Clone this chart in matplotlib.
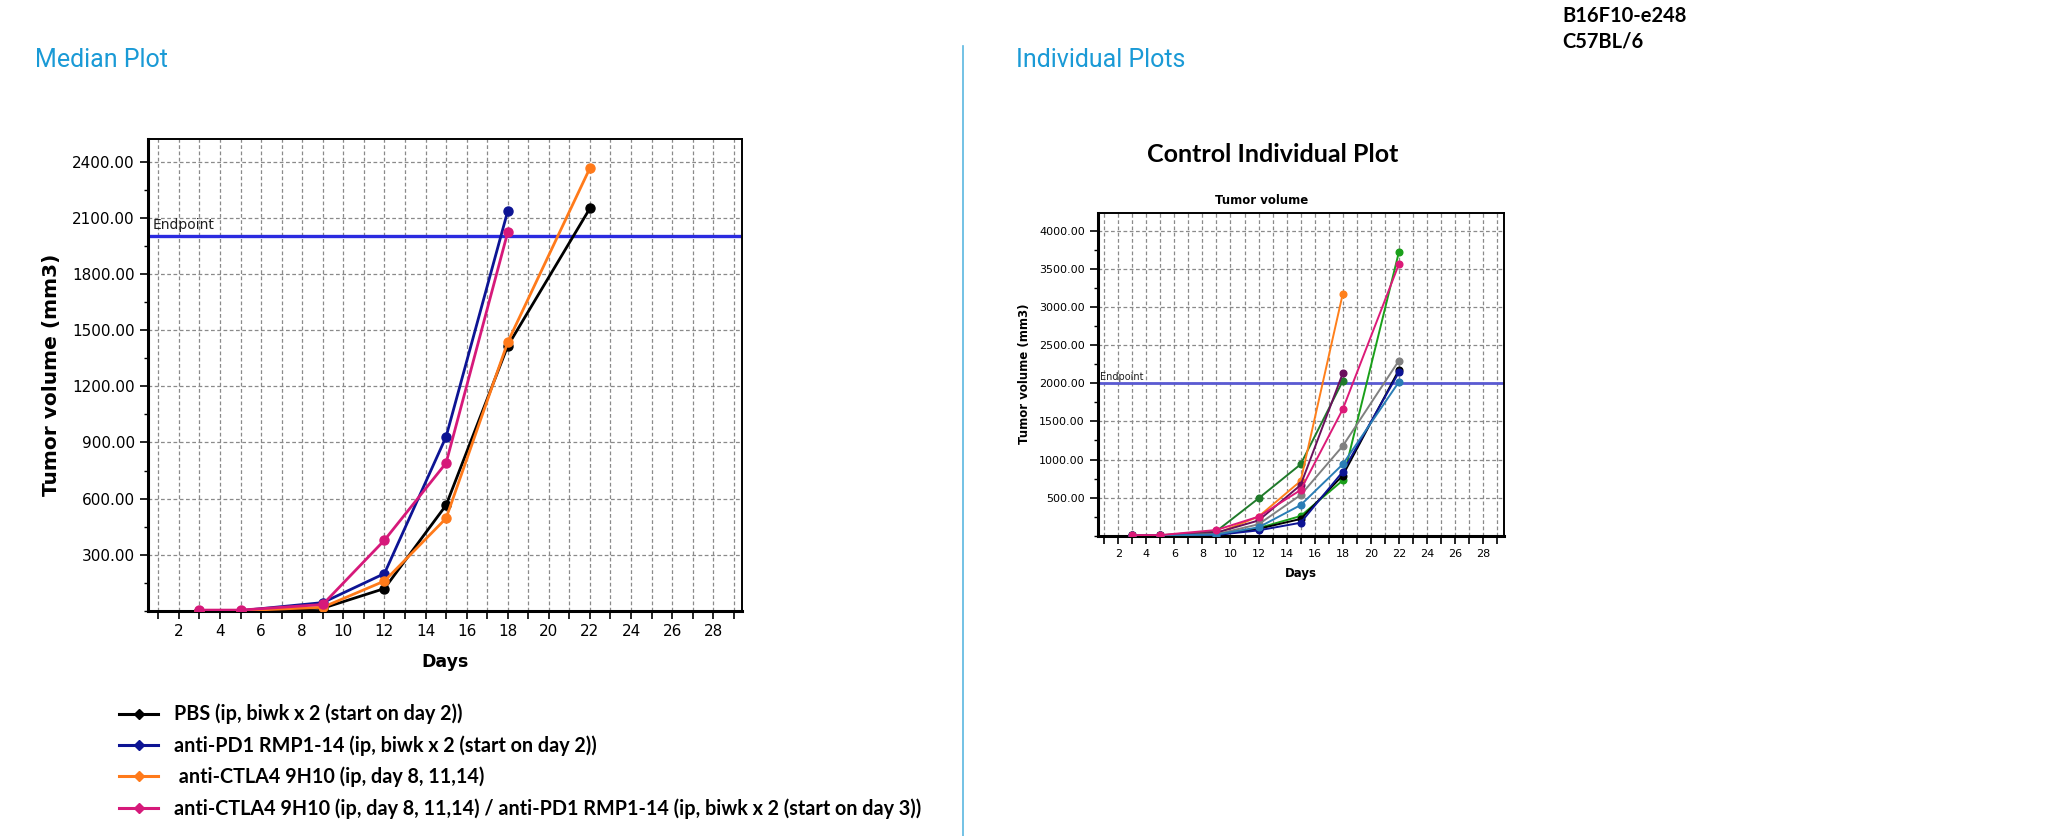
import matplotlib
matplotlib.use("Agg")
import matplotlib.pyplot as plt
from matplotlib.ticker import MultipleLocator, FixedLocator

# median plot data
median_labels = ["PBS (ip, biwk x 2 (start on day 2))",
                 "anti-PD1 RMP1-14 (ip, biwk x 2 (start on day 2))",
                 " anti-CTLA4 9H10 (ip, day 8, 11,14)",
                 "anti-CTLA4 9H10 (ip, day 8, 11,14) / anti-PD1 RMP1-14 (ip, biwk x 2 (start on day 3))"]
median_colors = ["#000000", "#0d1494", "#ff7a1a", "#d6197a"]
pbs_days = [3, 5, 9, 12, 15, 18, 22]
pbs_vol = [2, 2, 15, 120, 565, 1415, 2150]
pd1_days = [3, 5, 9, 12, 15, 18]
pd1_vol = [2, 2, 45, 200, 930, 2135]
ctla4_days = [3, 5, 9, 12, 15, 18, 22]
ctla4_vol = [2, 2, 20, 160, 495, 1435, 2365]
combo_days = [3, 5, 9, 12, 15, 18]
combo_vol = [5, 5, 35, 378, 790, 2022]

# individual plot data (control group)
ind_days_short = [3, 5, 9, 12, 15, 18]
ind_days_long = [3, 5, 9, 12, 15, 18, 22]
ind_colors = ["#1f7a2a", "#ff7f1a", "#6a0f5c", "#1aa01a", "#808080",
              "#000000", "#0d1494", "#2a7db5", "#dc1a78"]
ind_vols = [
    [5, 5, 60, 490, 937, 2030],
    [5, 5, 30, 250, 718, 3173],
    [5, 5, 40, 200, 665, 2131],
    [3, 3, 15, 100, 258, 726, 3720],
    [3, 3, 20, 150, 534, 1177, 2297],
    [3, 3, 10, 90, 220, 790, 2175],
    [3, 3, 10, 70, 170, 840, 2144],
    [3, 3, 15, 110, 402, 937, 2017],
    [8, 8, 75, 250, 600, 1659, 3562],
]
endpoint = 2000

fig = plt.figure(figsize=(20.48, 8.36), dpi=100)

def style_axes(ax, xlim, ylim, ystep, tick_fs):
    ax.set_xlim(*xlim)
    ax.set_ylim(*ylim)
    ax.xaxis.set_major_locator(FixedLocator(range(1, 30)))
    ax.set_xticklabels([str(d) if d % 2 == 0 else "" for d in range(1, 30)])
    ax.yaxis.set_major_locator(FixedLocator([ystep * i for i in range(1, int(ylim[1] // ystep) + 1)]))
    ax.yaxis.set_minor_locator(MultipleLocator(ystep / 2))
    ax.yaxis.set_major_formatter(matplotlib.ticker.FormatStrFormatter("%.2f"))
    ax.grid(True, which="major", color="#8a8a8a", linestyle=(0, (3, 2)), linewidth=0.9)
    ax.tick_params(axis="both", which="major", direction="out", length=6, width=1.2,
                   labelsize=tick_fs, color="black")
    ax.tick_params(axis="y", which="minor", direction="out", length=3, width=1.0)
    for s in ax.spines.values():
        s.set_color("black")
        s.set_linewidth(1.4)
    ax.spines["left"].set_linewidth(2.2)
    ax.spines["bottom"].set_linewidth(2.2)
    ax.set_axisbelow(True)

# ---- median plot ----
ax1 = fig.add_axes([0.0723, 0.2691, 0.290, 0.5646])
style_axes(ax1, (0.5, 29.4), (0, 2520), 300, 11)
ax1.axhline(endpoint, color="#2b2be0", linewidth=2.4, zorder=2)
ax1.text(0.7, endpoint + 25, "Endpoint", fontsize=10, color="#202020", va="bottom")
series = [(pbs_days, pbs_vol), (pd1_days, pd1_vol), (ctla4_days, ctla4_vol), (combo_days, combo_vol)]
for (d, v), c, lab in zip(series, median_colors, median_labels):
    ax1.plot(d, v, color=c, linewidth=2.0, marker="o", markersize=6.5, zorder=3)
ax1.set_ylabel("Tumor volume (mm3)", fontsize=14.5, fontweight="bold", labelpad=8)
ax1.set_xlabel("Days", fontsize=12.5, fontweight="bold", labelpad=10)

handles = [plt.Line2D([], [], color=c, linewidth=2.2, marker="D", markersize=5) for c in median_colors]
fig.legend(handles, median_labels, loc="upper left", bbox_to_anchor=(0.058, 0.158),
           frameon=False, handlelength=2.0, handletextpad=0.8, labelspacing=0.55,
           borderaxespad=0, borderpad=0, prop={"family": "Lato", "weight": "bold", "size": 14.2})

# ---- individual plot ----
ax2 = fig.add_axes([0.5361, 0.3592, 0.1983, 0.3864])
style_axes(ax2, (0.55, 29.5), (0, 4240), 500, 8)
ax2.axhline(endpoint, color="#5a5ad2", linewidth=2.0, zorder=2)
ax2.text(0.7, endpoint + 20, "Endpoint", fontsize=7, color="#202020", va="bottom")
for v, c in zip(ind_vols, ind_colors):
    d = ind_days_short if len(v) == 6 else ind_days_long
    ax2.plot(d, v, color=c, linewidth=1.4, marker="o", markersize=4.8, zorder=3)
ax2.set_ylabel("Tumor volume (mm3)", fontsize=8.5, fontweight="bold", labelpad=6)
ax2.set_xlabel("Days", fontsize=8.5, fontweight="bold", labelpad=6)
fig.text(1262 / 2048, 1 - 200 / 836, "Tumor volume", fontsize=8.5, fontweight="bold",
         ha="center", va="center")

# ---- page text ----
fig.text(35 / 2048, 1 - 60 / 836, "Median Plot", fontsize=18, color="#1a9ad6",
         family="Roboto", va="center")
fig.text(1016 / 2048, 1 - 60 / 836, "Individual Plots", fontsize=18, color="#1a9ad6",
         family="Roboto", va="center")
fig.add_artist(plt.Line2D([963 / 2048, 963 / 2048], [0, 1 - 46 / 836], color="#5bb8e0", linewidth=1.2))
fig.text(1562 / 2048, 1 - 16 / 836, "B16F10-e248", fontsize=14.5, family="Lato",
         fontweight="bold", va="center")
fig.text(1562 / 2048, 1 - 42 / 836, "C57BL/6", fontsize=14.5, family="Lato",
         fontweight="bold", va="center")
fig.text(1273 / 2048, 1 - 155 / 836, "Control Individual Plot", fontsize=18, family="Lato",
         fontweight="bold", ha="center", va="center")

fig.savefig("out.png", dpi=100)
